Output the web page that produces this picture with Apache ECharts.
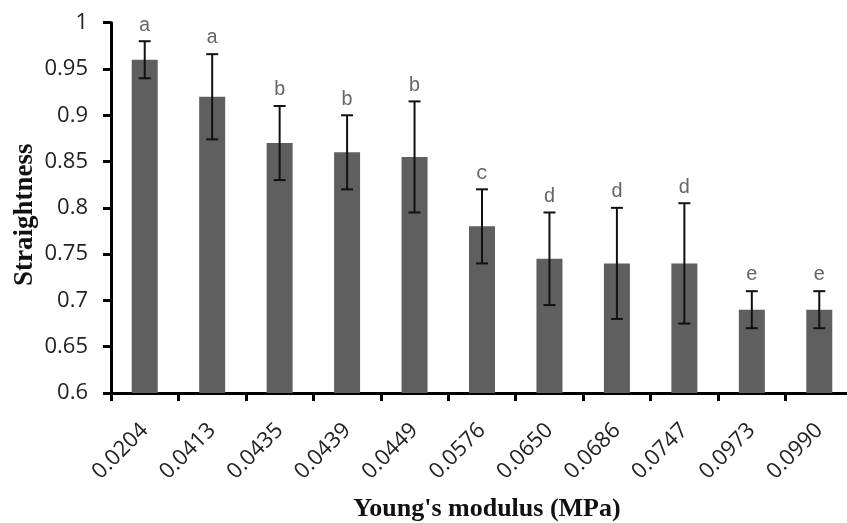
<!DOCTYPE html>
<html>
<head>
<meta charset="utf-8">
<script src="https://cdn.jsdelivr.net/npm/echarts@6/dist/echarts.min.js"></script>
<style>
  html, body { margin: 0; padding: 0; background: #fff; }
  #chart { width: 847px; height: 523px; }
</style>
</head>
<body>
<div id="chart"></div>
<script>
const categories = ['0.0204', '0.0413', '0.0435', '0.0439', '0.0449', '0.0576', '0.0650', '0.0686', '0.0747', '0.0973', '0.0990'];
const values = [0.96, 0.92, 0.87, 0.86, 0.855, 0.78, 0.745, 0.74, 0.74, 0.69, 0.69];
const errors = [0.02, 0.046, 0.04, 0.04, 0.06, 0.04, 0.05, 0.06, 0.065, 0.02, 0.02];
const letters = ['a', 'a', 'b', 'b', 'b', 'c', 'd', 'd', 'd', 'e', 'e'];

const errData = values.map((v, i) => [i, v, errors[i], letters[i]]);

const chart = echarts.init(document.getElementById('chart'), null, { renderer: 'canvas' });

chart.setOption({
  animation: false,
  backgroundColor: '#ffffff',
  grid: { left: 111, right: -6, top: 22.7, bottom: 130, containLabel: false, outerBoundsMode: 'none' },
  xAxis: {
    type: 'category',
    data: categories,
    name: "Young's modulus (MPa)",
    nameLocation: 'middle',
    nameGap: 103,
    nameTextStyle: { fontFamily: 'Liberation Serif', fontWeight: 'bold', fontSize: 26, color: '#111', padding: [0, 0, 0, 10] },
    axisLine: { lineStyle: { color: '#000', width: 3 } },
    axisTick: { show: true, length: 8, lineStyle: { color: '#000', width: 3 } },
    axisLabel: { rotate: 45, margin: 34, fontFamily: 'Open Sans', fontSize: 22, color: '#222', interval: 0 },
    splitLine: { show: false }
  },
  yAxis: {
    type: 'value',
    min: 0.6,
    max: 1,
    interval: 0.05,
    name: 'Straightness',
    nameLocation: 'middle',
    nameGap: 72,
    nameMoveOverlap: false,
    nameTextStyle: { fontFamily: 'Liberation Serif', fontWeight: 'bold', fontSize: 27, color: '#111', padding: [0, 14, 0, 0] },
    axisLine: { show: true, lineStyle: { color: '#000', width: 3 } },
    axisTick: { show: true, length: 8, lineStyle: { color: '#000', width: 3 } },
    axisLabel: { margin: 23, fontFamily: 'Open Sans', fontSize: 22, color: '#222' },
    splitLine: { show: false }
  },
  series: [
    {
      type: 'bar',
      data: values,
      barWidth: 26,
      itemStyle: { color: '#5f5f5f' }
    },
    {
      type: 'custom',
      data: errData,
      z: 10,
      renderItem: function (params, api) {
        const idx = api.value(0);
        const v = api.value(1);
        const e = api.value(2);
        const letter = letters[params.dataIndex];
        const top = api.coord([idx, v + e]);
        const bot = api.coord([idx, v - e]);
        const hw = 6;
        const ls = { stroke: '#111', lineWidth: 2 };
        return {
          type: 'group',
          children: [
            { type: 'line', shape: { x1: top[0], y1: top[1], x2: bot[0], y2: bot[1] }, style: ls },
            { type: 'line', shape: { x1: top[0] - hw, y1: top[1], x2: top[0] + hw, y2: top[1] }, style: ls },
            { type: 'line', shape: { x1: bot[0] - hw, y1: bot[1], x2: bot[0] + hw, y2: bot[1] }, style: ls },
            { type: 'text', style: { text: letter, x: top[0], y: top[1] - 6, align: 'center', verticalAlign: 'bottom', fontFamily: 'Liberation Mono', fontSize: 20, fill: '#666' } }
          ]
        };
      }
    }
  ]
});
</script>
</body>
</html>
